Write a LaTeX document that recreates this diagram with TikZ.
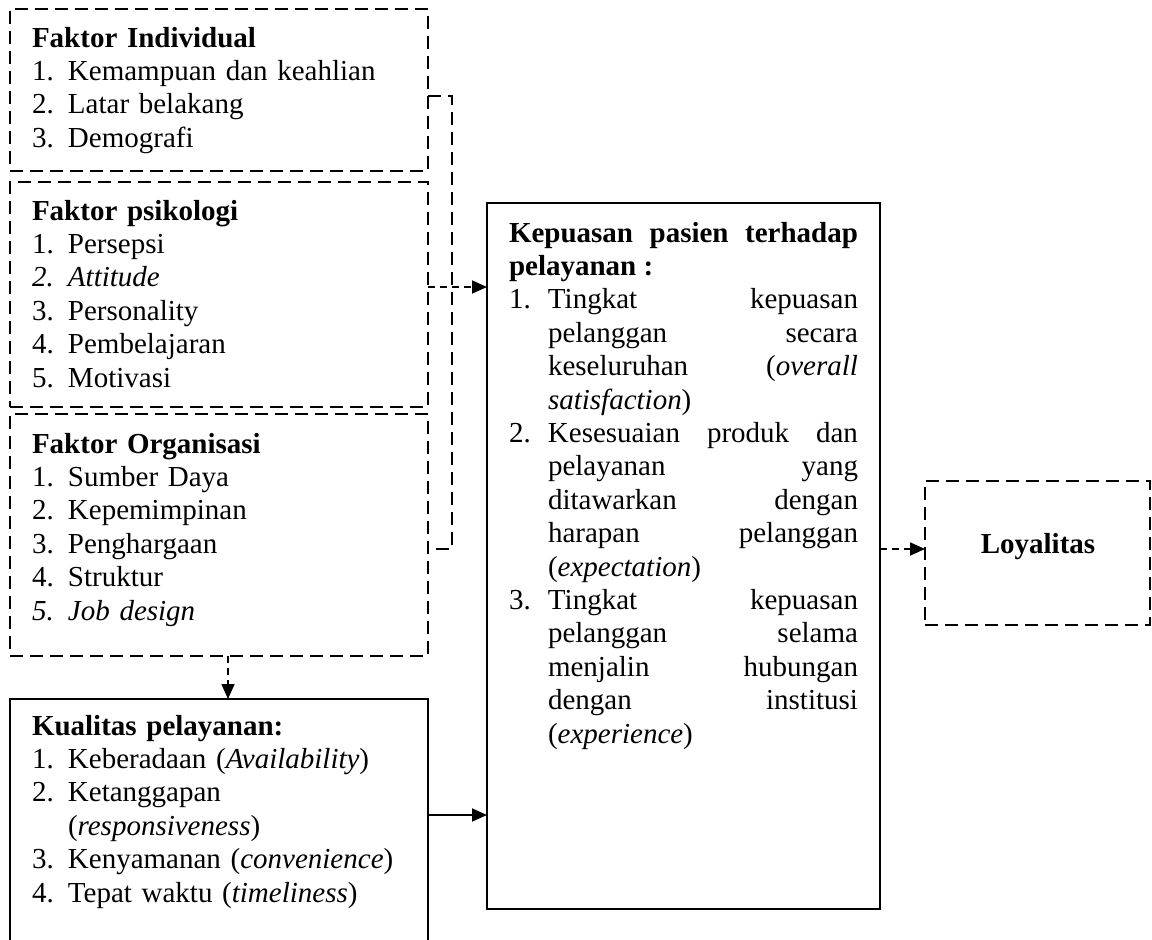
\documentclass[tikz,border=0pt]{standalone}
\usepackage{fontspec}
\setmainfont{Liberation Serif}
\usetikzlibrary{arrows.meta}
\newcommand\numlab[1]{\makebox[36pt][l]{#1}}
\newcommand\numlabk[1]{\makebox[39pt][l]{#1}}
\begin{document}
\begin{tikzpicture}[x=1pt,y=-1pt,
  lw/.style={line width=1.8pt},
  dbox/.style={draw, line width=1.8pt, dash pattern=on 13pt off 7pt, anchor=north west, inner sep=0pt, outer sep=0pt},
  sbox/.style={draw, line width=1.8pt, anchor=north west, inner sep=0pt, outer sep=0pt},
  hbox/.style={draw=none, anchor=north west, inner sep=0pt, outer sep=0pt},
  bodytxt/.style={anchor=base west, inner sep=0pt, outer sep=0pt, text width=#1, font=\fontsize{29pt}{33.4pt}\selectfont},
  lft/.style={bodytxt=#1, align=left},
  jst/.style={bodytxt=#1, align=justify},
  conn/.style={line width=1.8pt, dash pattern=on 13pt off 7pt},
  darr/.style={line width=1.8pt, dash pattern=on 7pt off 5pt, -{Triangle[length=15pt,width=13pt]}},
  sarr/.style={line width=1.8pt, -{Triangle[length=15pt,width=13pt]}},
  ttl/.style={anchor=base, inner sep=0pt, outer sep=0pt, font=\fontsize{29pt}{33.4pt}\selectfont\bfseries}
]
\useasboundingbox (0,0) rectangle (1152,940);
\fill[white] (0,0) rectangle (1152,940);

% boxes
\node[dbox, minimum width=418pt, minimum height=162pt] (fi) at (10,9) {};
\node[dbox, minimum width=418pt, minimum height=225pt] (fp) at (10,182) {};
\node[dbox, minimum width=418pt, minimum height=242pt] (fo) at (10,414) {};
\node[hbox, minimum width=418pt, minimum height=241pt] (kq) at (10,699) {};
\draw[lw] (kq.south west) -- (kq.north west) -- (kq.north east) -- (kq.south east);
\node[sbox, minimum width=393pt, minimum height=706pt] (kp) at (487,203) {};
\node[dbox, minimum width=225pt, minimum height=144pt] (ly) at (925,481) {};

% texts
\node[lft=390pt] (fit) at (32,47) {{\bfseries Faktor Individual}\\
\numlab{1.}Kemampuan dan keahlian\\
\numlab{2.}Latar belakang\\
\numlab{3.}Demografi};

\node[lft=390pt] (fpt) at (32,220) {{\bfseries Faktor psikologi}\\
\numlab{1.}Persepsi\\
{\itshape\numlab{2.}Attitude}\\
\numlab{3.}Personality\\
\numlab{4.}Pembelajaran\\
\numlab{5.}Motivasi};

\node[lft=390pt] (fot) at (32,453) {{\bfseries Faktor Organisasi}\\
\numlab{1.}Sumber Daya\\
\numlab{2.}Kepemimpinan\\
\numlab{3.}Penghargaan\\
\numlab{4.}Struktur\\
{\itshape\numlab{5.}Job design}};

\node[lft=390pt] (kqt) at (32,735) {{\bfseries Kualitas pelayanan:}\\
\numlab{1.}Keberadaan (\textit{Availability})\\
\numlab{2.}Ketanggapan\\
\numlab{}(\textit{responsiveness})\\
\numlab{3.}Kenyamanan (\textit{convenience})\\
\numlab{4.}Tepat waktu (\textit{timeliness})};

\node[jst=349pt] (kpt) at (509,242) {\tolerance=10000\hbadness=10000\hyphenpenalty=10000%
{\bfseries Kepuasan pasien terhadap\linebreak pelayanan :}\par
\hangindent=39pt\hangafter=1\noindent\numlabk{1.}Tingkat kepuasan\linebreak pelanggan secara\linebreak keseluruhan (\textit{overall}\linebreak \textit{satisfaction})\par
\hangindent=39pt\hangafter=1\noindent\numlabk{2.}Kesesuaian produk dan\linebreak pelayanan yang\linebreak ditawarkan dengan\linebreak harapan pelanggan\linebreak (\textit{expectation})\par
\hangindent=39pt\hangafter=1\noindent\numlabk{3.}Tingkat kepuasan\linebreak pelanggan selama\linebreak menjalin hubungan\linebreak dengan institusi\linebreak (\textit{experience})\par};

\node[ttl] (lyt) at (1038,553) {Loyalitas};

% connectors
\coordinate (bt) at (452,96);
\coordinate (bb) at (452,549);
\draw[conn] (fi.east |- bt) -- (bt) -- (bb) -- (fo.east |- bb);
\coordinate (ya) at (0,287);
\draw[darr] (fp.east |- ya) -- (kp.west |- ya);
\coordinate (xa) at (228,0);
\draw[darr] (fo.south -| xa) -- (kq.north -| xa);
\coordinate (yb) at (0,815);
\draw[sarr] (kq.east |- yb) -- (kp.west |- yb);
\coordinate (yc) at (0,549);
\draw[darr] (kp.east |- yc) -- (ly.west |- yc);
\end{tikzpicture}
\end{document}
